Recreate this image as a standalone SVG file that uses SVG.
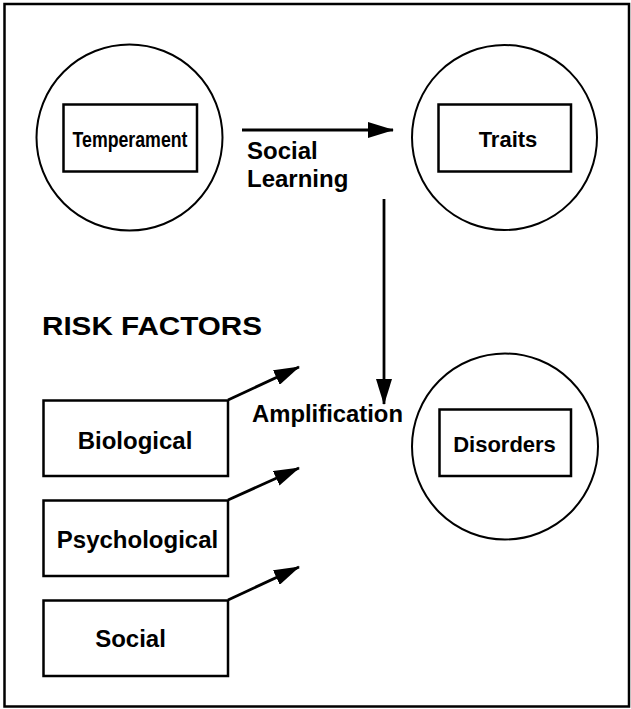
<svg xmlns="http://www.w3.org/2000/svg" width="631" height="709" viewBox="0 0 631 709">
  <style>
    .frame { fill: none; stroke: #000; stroke-width: 2.5; }
    .circ { fill: none; stroke: #000; stroke-width: 2; }
    .box { fill: #fff; stroke: #000; stroke-width: 2.5; }
    .lbl { font-family: "Liberation Sans", Arial, Helvetica, sans-serif; font-weight: bold; fill: #000; }
    .conn { stroke: #000; stroke-width: 2.8; fill: none; marker-end: url(#arr); }
  </style>
  <defs>
    <marker id="arr" markerUnits="userSpaceOnUse" markerWidth="26" markerHeight="16" refX="25" refY="8" orient="auto">
      <path d="M0,0 L26,8 L0,16 Z" fill="#000"/>
    </marker>
  </defs>
  <rect class="frame" x="4.5" y="4" width="624.5" height="702.5"/>

  <g id="temperament">
    <circle class="circ" cx="129.5" cy="137.5" r="93"/>
    <rect class="box" x="63.5" y="104.5" width="133.5" height="67"/>
    <text class="lbl" x="130" y="147" font-size="22" text-anchor="middle" textLength="115" lengthAdjust="spacingAndGlyphs">Temperament</text>
  </g>

  <g id="traits">
    <circle class="circ" cx="504.5" cy="137.5" r="92.5"/>
    <rect class="box" x="438.5" y="104.5" width="132.5" height="67"/>
    <text class="lbl" x="508" y="147" font-size="22" text-anchor="middle">Traits</text>
  </g>

  <g id="disorders">
    <circle class="circ" cx="505" cy="446.5" r="93"/>
    <rect class="box" x="439.5" y="409.5" width="131.5" height="66.5"/>
    <text class="lbl" x="504.5" y="452" font-size="22" text-anchor="middle">Disorders</text>
  </g>

  <g id="risk-factors-title">
    <text class="lbl" x="42" y="335" font-size="26" textLength="220" lengthAdjust="spacingAndGlyphs">RISK FACTORS</text>
  </g>

  <g id="biological">
    <rect class="box" x="43.5" y="400.5" width="184.5" height="75.5"/>
    <text class="lbl" x="135" y="449" font-size="24" text-anchor="middle">Biological</text>
  </g>

  <g id="psychological">
    <rect class="box" x="43.5" y="500.5" width="184.5" height="75.5"/>
    <text class="lbl" x="137.5" y="548" font-size="24" text-anchor="middle">Psychological</text>
  </g>

  <g id="social">
    <rect class="box" x="43.5" y="600.5" width="184.5" height="75.5"/>
    <text class="lbl" x="130.5" y="647" font-size="24" text-anchor="middle">Social</text>
  </g>

  <g id="connectors">
    <line class="conn" x1="242" y1="130" x2="393" y2="130"/>
    <line class="conn" x1="384" y1="199" x2="384" y2="404"/>
    <line class="conn" x1="228" y1="400" x2="299" y2="367"/>
    <line class="conn" x1="228" y1="500" x2="299" y2="468"/>
    <line class="conn" x1="228" y1="600" x2="299" y2="567"/>
  </g>

  <g id="labels">
    <text class="lbl" x="247" y="159" font-size="24">Social</text>
    <text class="lbl" x="247" y="187" font-size="24">Learning</text>
    <text class="lbl" x="252" y="422" font-size="24" textLength="151" lengthAdjust="spacingAndGlyphs">Amplification</text>
  </g>
</svg>
